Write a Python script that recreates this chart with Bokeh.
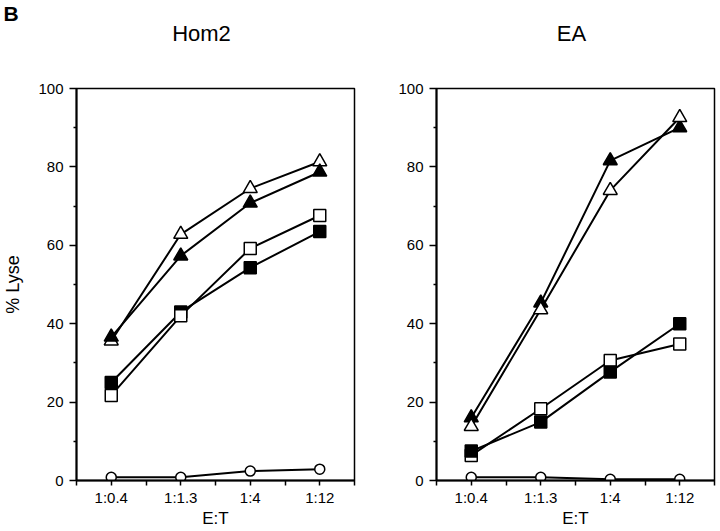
from bokeh.plotting import figure
from bokeh.layouts import row, column
from bokeh.models import FixedTicker, Range1d
from bokeh.core.properties import value
from bokeh.embed import file_html
from bokeh.resources import INLINE

# ---- data ----
categories = ["1:0.4", "1:1.3", "1:4", "1:12"]
y_ticks = [0, 20, 40, 60, 80, 100]
y_minor = [10, 30, 50, 70, 90]

hom2_open_tri = [35.6, 62.8, 74.5, 81.3]
hom2_fill_tri = [36.6, 57.3, 70.8, 78.7]
hom2_open_sq = [21.7, 42.0, 59.2, 67.6]
hom2_fill_sq = [25.0, 43.0, 54.3, 63.5]
hom2_open_circ = [0.8, 0.8, 2.4, 2.9]

ea_open_tri = [13.8, 43.6, 74.0, 92.6]
ea_fill_tri = [16.0, 45.3, 81.6, 90.0]
ea_open_sq = [6.4, 18.3, 30.6, 34.8]
ea_fill_sq = [7.5, 14.9, 27.7, 40.0]
ea_open_circ = [0.8, 0.8, 0.3, 0.3]

panel_titles = ["Hom2", "EA"]
panel_letter = "B"

FONT = "Liberation Sans"
x_pos = [i + 0.5 for i in range(len(categories))]
boundaries = list(range(len(categories) + 1))

TOP_H = 76
MAIN_H = 531 - TOP_H

# ---- header strip with panel letter and panel titles ----
head = figure(width=720, height=TOP_H, x_range=Range1d(0, 720), y_range=Range1d(TOP_H, 0),
              output_backend="svg", toolbar_location=None,
              min_border=0, min_border_left=0, min_border_right=0,
              min_border_top=0, min_border_bottom=0)
head.xaxis.visible = False
head.yaxis.visible = False
head.xgrid.visible = False
head.ygrid.visible = False
head.outline_line_color = None
head.text(x=[3], y=[13], text=[panel_letter], text_font=value(FONT),
          text_font_size="21px", text_font_style="bold", text_color="black",
          text_align="left", text_baseline="alphabetic")
head.text(x=[201, 571], y=[33, 33], text=panel_titles, text_font=value(FONT),
          text_font_size="22px", text_font_style="normal", text_color="black",
          text_align="center", text_baseline="alphabetic")


def make_panel(series, ylabel):
    p = figure(width=360, height=MAIN_H,
               x_range=Range1d(0, len(categories)), y_range=Range1d(0, 100),
               output_backend="svg", toolbar_location=None,
               min_border_left=76, min_border_right=6,
               min_border_top=88 - TOP_H, min_border_bottom=51)
    p.xgrid.visible = False
    p.ygrid.visible = False
    p.outline_line_color = "black"
    p.outline_line_width = 1.5
    p.outline_line_alpha = 1.0
    p.background_fill_color = "white"
    p.border_fill_color = "white"

    xa = p.xaxis[0]
    xa.ticker = FixedTicker(ticks=x_pos, minor_ticks=boundaries)
    xa.major_label_overrides = {x: c for x, c in zip(x_pos, categories)}
    xa.major_tick_in = 0
    xa.major_tick_out = 5
    xa.minor_tick_in = 0
    xa.minor_tick_out = 5
    xa.major_label_standoff = 3
    xa.axis_label = "E:T"
    xa.axis_label_standoff = 0
    xa.axis_label_text_font = FONT
    xa.axis_label_text_font_size = "17px"
    xa.axis_label_text_font_style = "normal"
    xa.axis_label_text_color = "black"

    ya = p.yaxis[0]
    ya.ticker = FixedTicker(ticks=y_ticks, minor_ticks=y_minor)
    ya.major_tick_in = 0
    ya.major_tick_out = 7
    ya.minor_tick_in = 0
    ya.minor_tick_out = 3
    ya.major_label_standoff = 6
    if ylabel:
        ya.axis_label = ylabel
        ya.axis_label_standoff = 12
        ya.axis_label_text_font = FONT
        ya.axis_label_text_font_size = "18px"
        ya.axis_label_text_font_style = "normal"
        ya.axis_label_text_color = "black"

    for ax in (xa, ya):
        ax.axis_line_color = "black"
        ax.axis_line_width = 2
        ax.major_tick_line_color = "black"
        ax.major_tick_line_width = 1.5
        ax.minor_tick_line_color = "black"
        ax.minor_tick_line_width = 1.5
        ax.major_label_text_font = FONT
        ax.major_label_text_font_size = "15px"
        ax.major_label_text_color = "black"

    for vals, marker, fill, size in series:
        p.line(x_pos, vals, line_color="black", line_width=2)
    for vals, marker, fill, size in series:
        p.scatter(x_pos, vals, marker=marker, size=size, fill_color=fill,
                  line_color="black", line_width=1.5)
    return p


hom2_series = [
    (hom2_open_circ, "circle", "white", 10),
    (hom2_fill_sq, "square", "black", 12),
    (hom2_open_sq, "square", "white", 12),
    (hom2_open_tri, "triangle", "white", 14),
    (hom2_fill_tri, "triangle", "black", 14),
]
ea_series = [
    (ea_open_circ, "circle", "white", 10),
    (ea_open_sq, "square", "white", 12),
    (ea_fill_sq, "square", "black", 12),
    (ea_fill_tri, "triangle", "black", 14),
    (ea_open_tri, "triangle", "white", 14),
]

left = make_panel(hom2_series, "% Lyse")
right = make_panel(ea_series, None)

layout = column(head, row(left, right, spacing=0), spacing=0)
open("out.html", "w").write(file_html(layout, INLINE))
